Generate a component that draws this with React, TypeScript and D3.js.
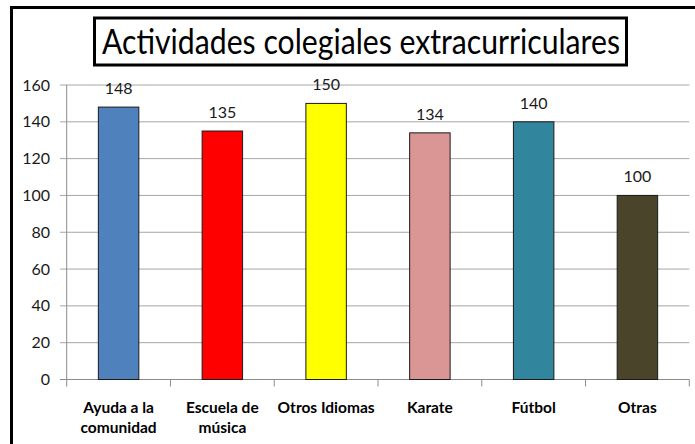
import React from "react";
import * as d3 from "d3";

const categories: string[][] = [
  ["Ayuda a la", "comunidad"],
  ["Escuela de", "música"],
  ["Otros Idiomas"],
  ["Karate"],
  ["Fútbol"],
  ["Otras"],
];
const values: number[] = [148, 135, 150, 134, 140, 100];
const colors: string[] = ["#4F81BD", "#FF0000", "#FFFF00", "#D99694", "#31859C", "#4A452A"];
const yTicks: number[] = [0, 20, 40, 60, 80, 100, 120, 140, 160];
const title = "Actividades colegiales extracurriculares";

const W = 695;
const H = 444;
const FONT = "Lato, 'Noto Sans', sans-serif";

export default function App() {
  const keys = categories.map((c) => c.join(" "));
  const x = d3.scaleBand<string>().domain(keys).range([66.7, 689.3]).padding(0);
  const y = d3.scaleLinear().domain([0, 160]).range([379.5, 85]);
  const bw = x.bandwidth() * 0.39;
  const x0 = x.range()[0];
  const x1 = x.range()[1];

  return (
    <svg
      width={W}
      height={H}
      style={{ position: "absolute", left: 0, top: 0, background: "#fff" }}
      fontFamily={FONT}
    >
      <rect x={0} y={0} width={W} height={H} fill="#fff" />
      {/* outer chart border */}
      <line x1={11.5} x2={11.5} y1={6} y2={H + 5} stroke="#000" strokeWidth={3} />
      <line x1={10} x2={W + 5} y1={7.5} y2={7.5} stroke="#000" strokeWidth={3} />

      {/* title */}
      <rect x={94.5} y={18} width={532} height={47} fill="#fff" stroke="#000" strokeWidth={3} />
      <text
        x={361}
        y={54}
        textAnchor="middle"
        fontSize={34}
        textLength={518}
        lengthAdjust="spacingAndGlyphs"
        fill="#000"
      >
        {title}
      </text>

      {/* gridlines and y ticks */}
      {yTicks.map((t) => (
        <g key={t}>
          <line
            x1={60}
            x2={x1}
            y1={y(t)}
            y2={y(t)}
            stroke={t === 0 ? "#8c8c8c" : "#a6a6a6"}
            strokeWidth={1}
          />
          <text x={50} y={y(t) + 5.5} textAnchor="end" fontSize={16} fill="#1a1a1a">
            {t}
          </text>
        </g>
      ))}
      {/* y axis */}
      <line x1={x0} x2={x0} y1={y(160)} y2={y(0)} stroke="#8c8c8c" strokeWidth={1} />
      {/* x ticks */}
      {[...keys.map((k) => x(k) as number), x1].map((px, i) => (
        <line key={i} x1={px} x2={px} y1={y(0)} y2={y(0) + 7} stroke="#8c8c8c" strokeWidth={1} />
      ))}

      {/* bars */}
      {keys.map((k, i) => {
        const cx = (x(k) as number) + x.bandwidth() / 2;
        return (
          <g key={k}>
            <rect
              x={cx - bw / 2}
              y={y(values[i])}
              width={bw}
              height={y(0) - y(values[i])}
              fill={colors[i]}
              stroke="#1a1a1a"
              strokeWidth={1}
            />
            <text x={cx} y={y(values[i]) - 13} textAnchor="middle" fontSize={16} fill="#1a1a1a">
              {values[i]}
            </text>
            {categories[i].map((line, j) => (
              <text
                key={j}
                x={cx}
                y={413 + j * 20}
                textAnchor="middle"
                fontSize={15.5}
                fontWeight="bold"
                fill="#000"
              >
                {line}
              </text>
            ))}
          </g>
        );
      })}
    </svg>
  );
}
